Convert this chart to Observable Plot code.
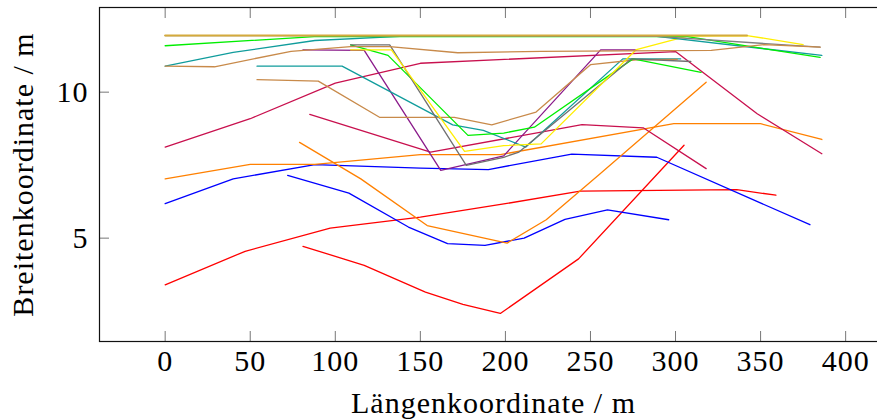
<!DOCTYPE html>
<html>
<head>
<meta charset="utf-8">
<script src="https://cdn.jsdelivr.net/npm/d3@7"></script>
<script src="https://cdn.jsdelivr.net/npm/@observablehq/plot@0.6"></script>
<style>
  html, body { margin: 0; padding: 0; background: #fff; overflow: hidden; width: 877px; height: 419px; }
  #chart { width: 890px; }
  #chart svg { display: block; max-width: none !important; width: 890px; height: 419px; }
  #chart svg text { letter-spacing: 1px; }
</style>
</head>
<body>
<div id="chart"></div>
<script>
// ---- data (x = Längenkoordinate in m, y = Breitenkoordinate in m) ----
const rot1     = [[0,3.40],[47,4.55],[97,5.34],[150,5.72],[200,6.18],[244,6.61],[336,6.66],[359,6.47]];
const rot2     = [[81,4.72],[117,4.07],[153,3.15],[175,2.73],[197,2.42],[243,4.29],[305,8.18]];
const blau1    = [[0,6.18],[40,7.03],[88,7.52],[150,7.40],[190,7.35],[239,7.88],[289,7.77],[379,5.46]];
const blau2    = [[72,7.15],[108,6.54],[143,5.38],[166,4.81],[188,4.75],[211,5.00],[235,5.64],[260,5.97],[296,5.63]];
const orange1  = [[0,7.03],[50,7.53],[88,7.53],[150,7.86],[197,7.86],[299,8.92],[350,8.92],[386,8.38]];
const orange2  = [[79,8.28],[115,7.03],[154,5.43],[201,4.83],[224,5.63],[255,7.17],[318,10.34]];
const karmin1  = [[0,8.12],[50,9.09],[100,10.31],[150,10.99],[300,11.39],[348,9.26],[386,7.89]];
const karmin2  = [[85,9.24],[156,7.95],[221,8.63],[245,8.89],[281,8.78],[318,7.38]];
const violett  = [[81,11.45],[117,11.43],[162,7.32],[199,7.82],[256,11.45],[277,11.45]];
const petrol2  = [[54,10.89],[104,10.89],[169,8.88],[187,8.69],[212,8.12],[269,11.14],[303,11.14]];
const braun2   = [[54,10.43],[90,10.38],[126,9.14],[170,9.14],[192,8.88],[218,9.32],[250,10.94],[277,11.11],[301,11.12]];
const gruen2   = [[109,11.62],[131,11.26],[178,8.52],[199,8.60],[217,8.80],[275,11.14],[315,10.68]];
const grau1    = [[109,11.62],[132,11.62],[177,7.49],[199,7.77],[208,7.95],[274,11.14],[309,11.05]];
const gelb     = [[109,11.45],[133,11.45],[176,7.97],[199,8.17],[221,8.23],[277,11.46],[307,11.92],[342,11.94],[375,11.63]];
const petrol1  = [[0,10.89],[40,11.36],[88,11.77],[138,11.91],[289,11.91],[386,11.26]];
const gruen1   = [[0,11.59],[90,11.91],[307,11.90],[385,11.19]];
const grau2    = [[0,11.94],[289,11.91],[385,11.54]];
const braun1   = [[0,10.89],[29,10.87],[74,11.40],[109,11.56],[132,11.56],[172,11.35],[221,11.40],[321,11.43],[352,11.63],[385,11.54]];
const gold     = [[0,11.94],[342,11.94]];

const xTicks = [0, 50, 100, 150, 200, 250, 300, 350, 400];
const yTicks = [5, 10];
const xTitle = "Längenkoordinate / m";
const yTitle = "Breitenkoordinate / m";

// ---- styles ----
const series = [
  [rot1, "#ff0000"], [rot2, "#ff0000"],
  [blau1, "#0000ff"], [blau2, "#0000ff"],
  [orange1, "#ff8000"], [orange2, "#ff8000"],
  [karmin1, "#c8104e"], [karmin2, "#c8104e"],
  [violett, "#8a1a8a"],
  [petrol2, "#109c9c"], [braun2, "#c88a4a"], [gruen2, "#00ee00"],
  [grau1, "#707070"], [gelb, "#ffee00"],
  [petrol1, "#109c9c"], [gruen1, "#00ee00"], [grau2, "#808080"], [braun1, "#c88a4a"],
  [gold, "#d4aa3c"]
];

const font = "'Liberation Serif', 'DejaVu Serif', serif";
const fs = 30;

const chart = Plot.plot({
  width: 890,
  height: 419,
  marginLeft: 99,
  marginRight: 3,
  marginTop: 7,
  marginBottom: 78,
  x: {domain: [-38.6, 424.6]},
  y: {domain: [1.46, 12.9]},
  style: {fontFamily: font, background: "#fff", overflow: "visible"},
  marks: [
    ...series.map(([d, c], i) => Plot.line(d, {
      x: p => p[0], y: p => p[1], stroke: c,
      strokeWidth: i === series.length - 1 ? 2.1 : 1.3
    })),
    Plot.axisX({anchor: "bottom", ticks: xTicks, tickSize: 10, dy: -10, tickFormat: () => "", stroke: "#777", label: null}),
    Plot.axisX({anchor: "top", ticks: xTicks, tickSize: 10, dy: 10, tickFormat: () => "", stroke: "#777", label: null}),
    Plot.axisY({anchor: "left", ticks: yTicks, tickSize: 10, dx: 10, tickFormat: () => "", stroke: "#777", label: null}),
    Plot.axisY({anchor: "right", ticks: yTicks, tickSize: 10, dx: -10, tickFormat: () => "", stroke: "#777", label: null}),
    Plot.text(xTicks, {x: d => d, text: d => String(d), frameAnchor: "bottom", dy: 29, fontSize: fs, fill: "#000"}),
    Plot.text(yTicks, {y: d => d, text: d => String(d), frameAnchor: "left", textAnchor: "end", dx: -11, fontSize: fs, fill: "#000"}),
    Plot.text([xTitle], {text: d => d, frameAnchor: "bottom", textAnchor: "middle", dy: 71, fontSize: fs, fill: "#000"}),
    Plot.text([yTitle], {text: d => d, frameAnchor: "left", textAnchor: "middle", rotate: -90, dx: -76, fontSize: fs, fill: "#000"}),
    Plot.frame({stroke: "#111", strokeWidth: 1.2})
  ]
});
document.getElementById("chart").append(chart);
</script>
</body>
</html>
